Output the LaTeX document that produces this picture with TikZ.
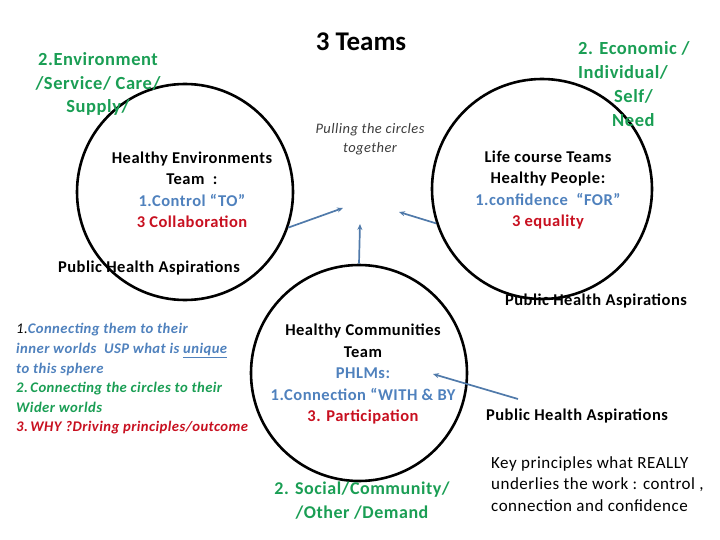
\documentclass[tikz,border=0pt]{standalone}
\usepackage{fontspec}
\setmainfont{Carlito}[LetterSpace=3]
\newfontfamily\titlefont{Carlito}
\usetikzlibrary{arrows.meta}
\definecolor{ablue}{RGB}{79,129,189}
\definecolor{agreen}{RGB}{26,158,84}
\definecolor{ared}{RGB}{200,16,32}
\definecolor{lineblue}{RGB}{80,122,170}
\definecolor{itgray}{RGB}{60,60,60}
\tikzset{
  circ/.style={draw, line width=2.6pt, circle, minimum size=216pt, inner sep=0pt},
  conn/.style={draw=lineblue, line width=1.7pt, -{Stealth[length=6pt,width=5pt]}},
  lbl/.style={inner sep=0pt, align=center, font=\fontsize{16.5}{21.5}\selectfont\bfseries},
  glbl/.style={inner sep=0pt, text=agreen, font=\fontsize{18.5}{23.8}\selectfont\bfseries},
  pha/.style={inner sep=0pt, font=\fontsize{16.5}{19}\selectfont\bfseries},
}
\begin{document}
\begin{tikzpicture}[x=1pt,y=-1pt]
\useasboundingbox (0,0) rectangle (720,540);
% circles
\node[circ] (env) at (185,192) {};
\node[circ, minimum size=220pt] (life) at (542,189) {};
\node[circ] (comm) at (359,373) {};
% title
\node[inner sep=0pt, font=\titlefont\fontsize{27}{30}\selectfont\bfseries] (title) at (361,42) {3 Teams};
% green labels
\node[glbl, align=center] (envlab) at (98,84) {2.Environment\\/Service/ Care/\\Supply/};
\node[glbl, align=left, anchor=west] (lifelab) at (578,84) {2. Economic /\\Individual/\\\hspace{36pt}Self/\\\hspace{34pt}Need};
\node[glbl, align=center, font=\fontsize{18}{24}\selectfont\bfseries] (commlab) at (362,501) {2. Social/Community/\\/Other /Demand};
% circle texts
\node[lbl] (envtxt) at (192,190) {Healthy Environments\\Team~~:\\{\color{ablue}1.Control “TO”}\\{\color{ared}3 Collaboration}};
\node[lbl] (lifetxt) at (548,190) {Life course Teams\\Healthy People:\\{\color{ablue}1.confidence~~“FOR”}\\{\color{ared}3 equality}};
\node[lbl] (commtxt) at (363,374) {Healthy Communities\\Team\\{\color{ablue}PHLMs:}\\{\color{ablue}1.Connection “WITH \& BY}\\{\color{ared}3. Participation}};
% pulling
\node[inner sep=0pt, align=center, text=itgray, font=\fontsize{14.5}{19}\selectfont\itshape] (pull) at (370,139) {Pulling the circles\\together};
% public health aspirations
\node[pha] (pha1) at (149,268) {Public Health Aspirations};
\node[pha] (pha2) at (596,301) {Public Health Aspirations};
\node[pha] (pha3) at (577,416) {Public Health Aspirations};
% bottom-left list
\node[inner sep=0pt, anchor=west, align=left, font=\fontsize{14.7}{19.6}\selectfont\bfseries\itshape] (list) at (16,379)
 {{\mdseries 1.}\textcolor{ablue}{ Connecting them to their}\\
  \textcolor{ablue}{inner worlds~ USP what is \underline{unique}}\\
  \textcolor{ablue}{to this sphere}\\
  \textcolor{agreen}{2.\,Connecting the circles to their}\\
  \textcolor{agreen}{Wider worlds}\\
  \textcolor{ared}{3.\,WHY ?Driving principles/outcome}};
% key principles
\node[inner sep=0pt, anchor=west, align=left, font=\fontsize{17}{21.5}\selectfont] (key) at (491,484)
 {Key principles what REALLY\\underlies the work : control ,\\connection and confidence};
% connectors
\coordinate (a1) at (343,208);
\coordinate (a2) at (399,212);
\coordinate (a3) at (360,224);
\coordinate (s4) at (518,399);
\coordinate (a4) at (433,374);
\draw[conn] (env.-19) -- (a1);
\draw[conn] (life.198) -- (a2);
\draw[conn] (comm.north) -- (a3);
\draw[conn] (s4) -- (a4);
\end{tikzpicture}
\end{document}
